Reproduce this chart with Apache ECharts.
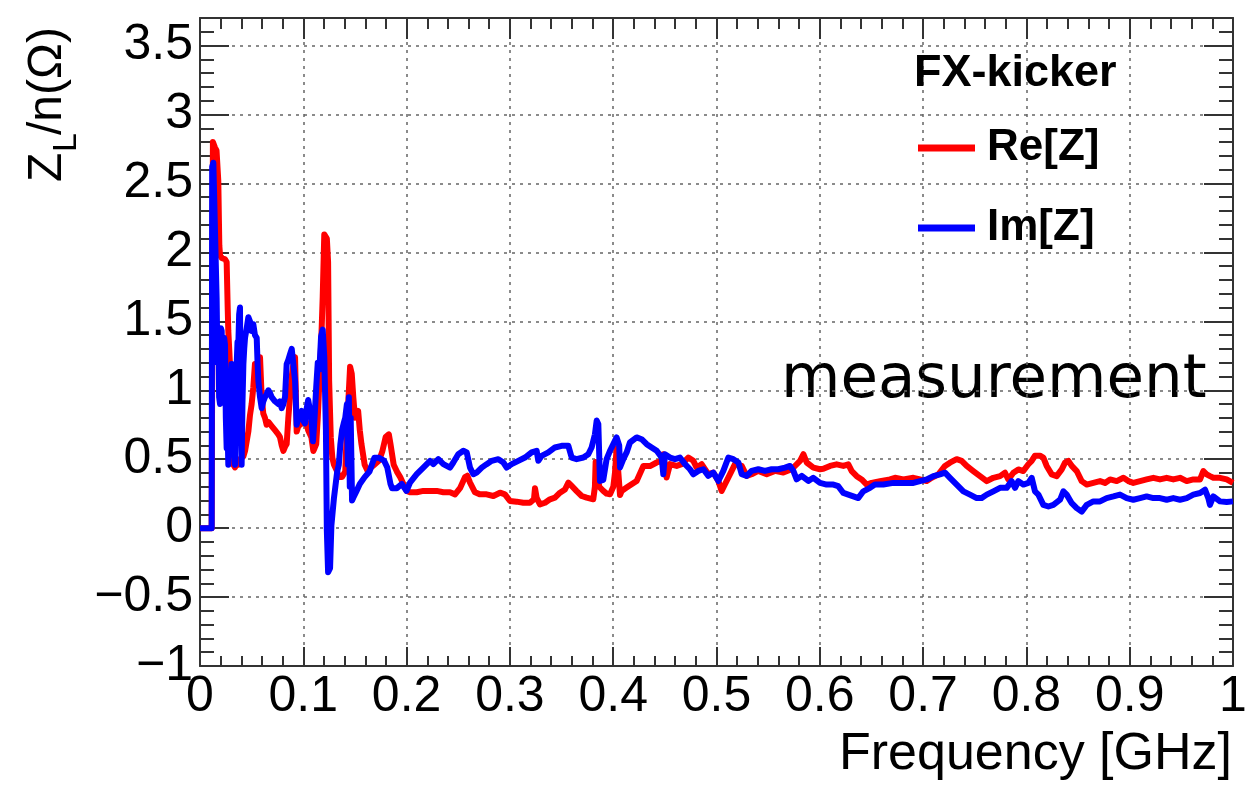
<!DOCTYPE html>
<html>
<head>
<meta charset="utf-8">
<script src="https://cdn.jsdelivr.net/npm/echarts@6/dist/echarts.min.js"></script>
<style>
  html, body { margin: 0; padding: 0; background: #ffffff; }
  #chart { width: 1258px; height: 790px; }
</style>
</head>
<body>
<div id="chart"></div>
<script>
// Longitudinal impedance Z_L/n of the FX kicker versus frequency (GHz)
const reFreq = [
  0, 0.0113, 0.0125, 0.0145, 0.016, 0.0177, 0.0187, 0.0194, 0.021, 0.0226, 0.0242, 0.0258, 0.0268, 0.0274,
  0.029, 0.0306, 0.0323, 0.0339, 0.0355, 0.0371, 0.0387, 0.0403, 0.042, 0.0436, 0.0452, 0.0468, 0.0484, 0.05,
  0.0516, 0.0532, 0.0549, 0.0565, 0.0581, 0.0597, 0.0613, 0.0629, 0.0645, 0.0662, 0.0678, 0.0694, 0.071, 0.0726,
  0.0742, 0.0758, 0.0774, 0.0791, 0.0807, 0.0823, 0.0839, 0.0855, 0.0871, 0.0888, 0.0904, 0.092, 0.0936, 0.0952,
  0.0968, 0.0984, 0.1016, 0.1047, 0.1078, 0.1097, 0.1109, 0.1125, 0.114, 0.1156, 0.1172, 0.1188, 0.1203, 0.1228,
  0.124, 0.125, 0.1266, 0.1281, 0.1297, 0.1328, 0.1344, 0.1375, 0.1406, 0.1422, 0.1438, 0.1453, 0.1469, 0.1484,
  0.15, 0.1531, 0.1547, 0.1563, 0.1594, 0.1625, 0.1656, 0.1688, 0.1734, 0.1766, 0.1797, 0.1828, 0.1844, 0.1875,
  0.1906, 0.1938, 0.1969, 0.2, 0.2033, 0.2098, 0.2162, 0.2227, 0.2291, 0.2356, 0.242, 0.2469, 0.2517, 0.2566,
  0.2588, 0.2614, 0.2662, 0.2711, 0.2775, 0.284, 0.2904, 0.2952, 0.3001, 0.3065, 0.313, 0.3194, 0.3233, 0.3243,
  0.3259, 0.3291, 0.334, 0.3388, 0.3436, 0.3485, 0.3533, 0.3566, 0.3598, 0.3646, 0.3695, 0.3743, 0.3807, 0.3823,
  0.383, 0.3865, 0.3904, 0.3936, 0.3969, 0.4001, 0.4017, 0.4033, 0.405, 0.4066, 0.4082, 0.413, 0.4178, 0.4227,
  0.4292, 0.4356, 0.4421, 0.4469, 0.4485, 0.4517, 0.455, 0.4614, 0.4663, 0.4727, 0.4776, 0.4808, 0.4856, 0.4921,
  0.4969, 0.5018, 0.505, 0.5082, 0.5131, 0.5179, 0.5244, 0.5292, 0.534, 0.5405, 0.5486, 0.5566, 0.5647, 0.5728,
  0.5809, 0.5841, 0.5873, 0.5938, 0.6002, 0.6034, 0.6099, 0.6163, 0.6228, 0.6276, 0.6309, 0.6357, 0.6405, 0.6454,
  0.6502, 0.6583, 0.668, 0.6728, 0.6809, 0.6906, 0.697, 0.7035, 0.7083, 0.7148, 0.7212, 0.726, 0.7325, 0.7373,
  0.7422, 0.7486, 0.7551, 0.7616, 0.768, 0.7745, 0.7793, 0.7825, 0.7874, 0.7922, 0.797, 0.8019, 0.8051, 0.8083,
  0.8132, 0.8164, 0.8196, 0.8245, 0.8293, 0.8342, 0.8374, 0.8406, 0.8439, 0.8487, 0.8535, 0.8584, 0.8648, 0.8713,
  0.8761, 0.881, 0.8874, 0.8939, 0.8987, 0.9035, 0.91, 0.9164, 0.9229, 0.9293, 0.9358, 0.9422, 0.9487, 0.9552,
  0.9616, 0.9681, 0.9713, 0.9745, 0.9777, 0.981, 0.9874, 0.9939, 1.0
];
const reValue = [
  0, 0, 2.80, 2.76, 2.74, 2.52, 2.05, 1.98, 1.96, 1.97, 1.95, 1.93, 1.60, 1.43,
  1.19, 0.83, 0.46, 0.44, 0.48, 0.46, 0.50, 0.49, 0.52, 0.56, 0.63, 0.70, 0.82, 0.90,
  1.02, 1.19, 1.10, 1.12, 1.24, 0.95, 0.83, 0.80, 0.75, 0.77, 0.78, 0.74, 0.73, 0.71,
  0.70, 0.68, 0.66, 0.60, 0.56, 0.59, 0.61, 0.80, 0.95, 1.10, 1.19, 1.24, 0.70, 0.74,
  0.73, 0.76, 0.80, 0.71, 0.66, 0.56, 0.58, 0.61, 0.80, 1.07, 1.32, 1.68, 2.13, 2.10,
  1.93, 1.07, 0.66, 0.51, 0.46, 0.41, 0.37, 0.37, 0.41, 0.71, 0.95, 1.17, 1.12, 0.95,
  0.80, 0.85, 0.71, 0.61, 0.46, 0.41, 0.44, 0.46, 0.49, 0.56, 0.66, 0.68, 0.61, 0.46,
  0.41, 0.37, 0.32, 0.27, 0.26, 0.26, 0.27, 0.27, 0.27, 0.26, 0.26, 0.245, 0.29, 0.37,
  0.38, 0.33, 0.26, 0.245, 0.245, 0.233, 0.257, 0.245, 0.197, 0.192, 0.184, 0.184, 0.209, 0.29,
  0.22, 0.172, 0.184, 0.209, 0.221, 0.257, 0.28, 0.33, 0.306, 0.269, 0.233, 0.221, 0.209, 0.30,
  0.48, 0.30, 0.27, 0.25, 0.245, 0.30, 0.40, 0.58, 0.40, 0.24, 0.27, 0.294, 0.318, 0.342,
  0.45, 0.45, 0.476, 0.488, 0.536, 0.367, 0.464, 0.451, 0.464, 0.512, 0.488, 0.439, 0.464, 0.391,
  0.403, 0.342, 0.269, 0.318, 0.391, 0.464, 0.451, 0.379, 0.391, 0.415, 0.391, 0.415, 0.403, 0.427,
  0.488, 0.536, 0.476, 0.439, 0.427, 0.43, 0.451, 0.463, 0.451, 0.463, 0.414, 0.377, 0.353, 0.316,
  0.328, 0.341, 0.353, 0.365, 0.353, 0.365, 0.353, 0.341, 0.365, 0.39, 0.451, 0.475, 0.50, 0.488,
  0.451, 0.414, 0.377, 0.341, 0.365, 0.377, 0.402, 0.353, 0.402, 0.426, 0.414, 0.463, 0.488, 0.525,
  0.525, 0.512, 0.451, 0.39, 0.377, 0.426, 0.475, 0.488, 0.451, 0.414, 0.341, 0.316, 0.328, 0.341,
  0.328, 0.353, 0.341, 0.365, 0.341, 0.328, 0.341, 0.353, 0.365, 0.353, 0.365, 0.353, 0.365, 0.341,
  0.353, 0.353, 0.414, 0.39, 0.377, 0.365, 0.365, 0.353, 0.328
];
const imFreq = [
  0, 0.0113, 0.0118, 0.0129, 0.0145, 0.0161, 0.0169, 0.0177, 0.0185, 0.0194, 0.0202, 0.021, 0.0218, 0.0226,
  0.0234, 0.0242, 0.025, 0.0258, 0.0266, 0.0274, 0.0282, 0.029, 0.0298, 0.0306, 0.0315, 0.0323, 0.0331, 0.0339,
  0.0347, 0.0355, 0.0363, 0.0371, 0.0379, 0.0387, 0.0395, 0.0403, 0.0411, 0.042, 0.0428, 0.0436, 0.0452, 0.0468,
  0.0484, 0.05, 0.0516, 0.0532, 0.0549, 0.0557, 0.0565, 0.0581, 0.0597, 0.0613, 0.0629, 0.0645, 0.0662, 0.0678,
  0.0694, 0.071, 0.0726, 0.0742, 0.0758, 0.0774, 0.0791, 0.0807, 0.0823, 0.0839, 0.0855, 0.0871, 0.0888, 0.0904,
  0.092, 0.0936, 0.0952, 0.0968, 0.0984, 0.1, 0.1016, 0.1031, 0.1047, 0.1062, 0.1078, 0.1094, 0.1109, 0.1125,
  0.114, 0.1156, 0.1172, 0.1188, 0.1203, 0.1219, 0.1228, 0.124, 0.1259, 0.1272, 0.1297, 0.1328, 0.1344, 0.1359,
  0.1375, 0.1391, 0.1406, 0.1422, 0.1431, 0.1441, 0.145, 0.1459, 0.1472, 0.1484, 0.1516, 0.1547, 0.1594, 0.1641,
  0.1688, 0.1734, 0.1781, 0.1813, 0.1844, 0.1859, 0.1906, 0.1953, 0.2, 0.2033, 0.2098, 0.2162, 0.2227, 0.2259,
  0.2307, 0.2356, 0.242, 0.2452, 0.25, 0.2549, 0.2582, 0.2614, 0.2646, 0.2678, 0.2727, 0.2775, 0.2824, 0.2888,
  0.2937, 0.2969, 0.3017, 0.3081, 0.3146, 0.321, 0.3259, 0.3275, 0.3307, 0.3372, 0.3436, 0.3501, 0.3566, 0.3598,
  0.3646, 0.3711, 0.3759, 0.3791, 0.3823, 0.384, 0.3856, 0.3872, 0.3904, 0.3936, 0.3969, 0.4001, 0.4033, 0.4058,
  0.4066, 0.4098, 0.413, 0.4162, 0.4227, 0.4275, 0.4324, 0.4372, 0.4421, 0.4469, 0.4485, 0.4501, 0.455, 0.4598,
  0.4646, 0.4695, 0.4743, 0.4776, 0.4824, 0.4873, 0.4921, 0.4969, 0.5018, 0.5066, 0.5115, 0.5163, 0.5212, 0.5244,
  0.5292, 0.534, 0.5405, 0.5469, 0.5534, 0.5598, 0.5663, 0.5711, 0.5744, 0.5776, 0.5825, 0.5889, 0.5937, 0.6002,
  0.6066, 0.6131, 0.6179, 0.6228, 0.6276, 0.6325, 0.6373, 0.6421, 0.6486, 0.6534, 0.6615, 0.6712, 0.6809, 0.6906,
  0.697, 0.7035, 0.7099, 0.7164, 0.7212, 0.726, 0.7325, 0.739, 0.7454, 0.7519, 0.7567, 0.7616, 0.768, 0.7745,
  0.7809, 0.7857, 0.789, 0.7922, 0.797, 0.8019, 0.8051, 0.8083, 0.8116, 0.8164, 0.8213, 0.8261, 0.8326, 0.8358,
  0.839, 0.8439, 0.8487, 0.8535, 0.8584, 0.8648, 0.8713, 0.8777, 0.8842, 0.8906, 0.8971, 0.9035, 0.91, 0.9164,
  0.9229, 0.9293, 0.9358, 0.9422, 0.9487, 0.9552, 0.9616, 0.9681, 0.9729, 0.9761, 0.9777, 0.981, 0.9874, 0.9939,
  1.0
];
const imValue = [
  0, 0, 2.62, 2.65, 2.66, 1.67, 1.20, 1.43, 0.95, 0.90, 1.45, 1.43, 1.00, 0.95,
  1.38, 1.33, 0.80, 0.58, 0.75, 0.46, 0.70, 1.00, 1.10, 1.19, 0.85, 0.70, 0.55, 0.46,
  0.90, 1.19, 1.35, 1.33, 1.55, 1.60, 0.80, 0.46, 0.90, 1.19, 1.30, 1.38, 1.45, 1.53,
  1.50, 1.43, 1.48, 1.40, 1.38, 1.20, 1.07, 0.95, 0.87, 0.92, 0.95, 0.97, 1.00, 0.98,
  0.95, 0.96, 0.92, 0.93, 0.90, 0.92, 0.87, 0.90, 0.95, 1.19, 1.22, 1.26, 1.30, 1.29,
  1.07, 0.75, 0.80, 0.80, 0.85, 0.78, 0.76, 0.86, 0.93, 0.92, 0.80, 0.63, 0.80, 1.02,
  1.20, 1.15, 1.39, 1.44, 1.24, 0.71, -0.02, -0.32, -0.29, 0.02, 0.22, 0.41, 0.46, 0.61,
  0.71, 0.76, 0.80, 0.90, 0.46, 0.95, 0.30, 0.80, 0.20, 0.22, 0.27, 0.32, 0.37, 0.41,
  0.51, 0.51, 0.49, 0.44, 0.32, 0.29, 0.29, 0.32, 0.27, 0.33, 0.391, 0.439, 0.488, 0.464,
  0.50, 0.464, 0.439, 0.476, 0.536, 0.561, 0.549, 0.439, 0.391, 0.403, 0.439, 0.464, 0.488, 0.50,
  0.476, 0.439, 0.464, 0.488, 0.512, 0.549, 0.561, 0.488, 0.524, 0.549, 0.585, 0.597, 0.597, 0.512,
  0.50, 0.512, 0.536, 0.585, 0.68, 0.78, 0.755, 0.342, 0.35, 0.50, 0.561, 0.609, 0.658, 0.60,
  0.44, 0.50, 0.549, 0.621, 0.658, 0.645, 0.609, 0.585, 0.561, 0.512, 0.391, 0.536, 0.512, 0.50,
  0.512, 0.464, 0.427, 0.391, 0.415, 0.427, 0.379, 0.403, 0.342, 0.415, 0.512, 0.50, 0.476, 0.391,
  0.379, 0.415, 0.427, 0.415, 0.427, 0.427, 0.439, 0.451, 0.415, 0.354, 0.379, 0.342, 0.365, 0.328,
  0.316, 0.316, 0.304, 0.255, 0.243, 0.23, 0.218, 0.267, 0.292, 0.316, 0.316, 0.328, 0.328, 0.328,
  0.341, 0.353, 0.377, 0.39, 0.402, 0.365, 0.316, 0.267, 0.243, 0.218, 0.218, 0.243, 0.267, 0.292,
  0.292, 0.341, 0.292, 0.341, 0.316, 0.328, 0.365, 0.267, 0.243, 0.169, 0.157, 0.169, 0.206, 0.267,
  0.243, 0.181, 0.145, 0.12, 0.169, 0.194, 0.194, 0.218, 0.23, 0.243, 0.218, 0.206, 0.218, 0.23,
  0.218, 0.218, 0.206, 0.218, 0.206, 0.218, 0.243, 0.255, 0.279, 0.218, 0.169, 0.23, 0.194, 0.189,
  0.194
];

// Axis ranges and tick steps
const xRange = [0, 1];
const xMajorStep = 0.1;
const yRange = [-1, 3.7];
const yMajorStep = 0.5;
const yMinorStep = 0.1;

const FONT = '"Liberation Sans", Arial, Helvetica, sans-serif';
const FRAME = '#333333';

const zip = (xs, ys) => xs.map((x, i) => [x, ys[i]]);

const chart = echarts.init(document.getElementById('chart'), null, { renderer: 'canvas' });

const frameLine = { show: true, onZero: false, lineStyle: { color: FRAME, width: 2 } };
const gridLine = { show: true, lineStyle: { color: '#666666', width: 1.5, type: [3, 5] } };

const yLabelFmt = v => String(Math.round(v * 10) / 10).replace('-', '\u2212');

chart.setOption({
  animation: false,
  backgroundColor: '#ffffff',
  grid: { left: 200, right: 25, top: 18, bottom: 124, containLabel: false, outerBoundsMode: 'none' },
  title: {
    text: 'FX-kicker',
    left: 914, top: 51, padding: 0,
    textStyle: { fontFamily: FONT, fontSize: 45, fontWeight: 'bold', color: '#000000' }
  },
  legend: {
    orient: 'vertical',
    left: 913, top: 121,
    itemWidth: 57, itemHeight: 7, itemGap: 36,
    icon: 'rect',
    itemStyle: { borderWidth: 0 },
    textStyle: { fontFamily: FONT, fontSize: 44, fontWeight: 'bold', color: '#000000', padding: [0, 0, 0, 7] },
    data: ['Re[Z]', 'Im[Z]']
  },
  xAxis: [
    {
      type: 'value', position: 'bottom', min: xRange[0], max: xRange[1], interval: xMajorStep,
      axisLine: frameLine,
      axisTick: { show: true, inside: true, length: 19, lineStyle: { color: FRAME, width: 2 } },
      minorTick: { show: true, splitNumber: 5, length: 10, lineStyle: { color: FRAME, width: 2 } },
      axisLabel: { show: true, margin: 6, fontFamily: FONT, fontSize: 50, color: '#000000', hideOverlap: false },
      splitLine: gridLine
    },
    {
      type: 'value', position: 'top', min: xRange[0], max: xRange[1], interval: xMajorStep,
      axisLine: frameLine,
      axisTick: { show: true, inside: true, length: 21, lineStyle: { color: FRAME, width: 2 } },
      minorTick: { show: true, splitNumber: 5, length: 11, lineStyle: { color: FRAME, width: 2 } },
      axisLabel: { show: false },
      splitLine: { show: false }
    }
  ],
  yAxis: [
    {
      type: 'value', position: 'left', min: yRange[0], max: yRange[1], interval: yMajorStep,
      axisLine: frameLine,
      axisTick: { show: true, inside: true, length: 29, lineStyle: { color: FRAME, width: 2 } },
      axisLabel: {
        show: true, margin: 7, fontFamily: FONT, fontSize: 50, color: '#000000',
        showMaxLabel: false, hideOverlap: false, formatter: yLabelFmt
      },
      splitLine: gridLine
    },
    {
      type: 'value', position: 'left', min: yRange[0], max: yRange[1], interval: yMinorStep,
      axisLine: { show: false, onZero: false },
      axisTick: { show: true, inside: true, length: 14, lineStyle: { color: FRAME, width: 2 } },
      axisLabel: { show: false },
      splitLine: { show: false }
    },
    {
      type: 'value', position: 'right', min: yRange[0], max: yRange[1], interval: yMajorStep,
      axisLine: frameLine,
      axisTick: { show: true, inside: true, length: 29, lineStyle: { color: FRAME, width: 2 } },
      axisLabel: { show: false },
      splitLine: { show: false }
    },
    {
      type: 'value', position: 'right', min: yRange[0], max: yRange[1], interval: yMinorStep,
      axisLine: { show: false, onZero: false },
      axisTick: { show: true, inside: true, length: 14, lineStyle: { color: FRAME, width: 2 } },
      axisLabel: { show: false },
      splitLine: { show: false }
    }
  ],
  series: [
    {
      name: 'Re[Z]', type: 'line', xAxisIndex: 0, yAxisIndex: 0,
      data: zip(reFreq, reValue),
      color: '#ff0000',
      showSymbol: false, symbol: 'none',
      lineStyle: { color: '#ff0000', width: 6, join: 'round' },
      emphasis: { disabled: true }, silent: true, z: 3
    },
    {
      name: 'Im[Z]', type: 'line', xAxisIndex: 0, yAxisIndex: 0,
      data: zip(imFreq, imValue),
      color: '#0000ff',
      showSymbol: false, symbol: 'none',
      lineStyle: { color: '#0000ff', width: 6, join: 'round' },
      emphasis: { disabled: true }, silent: true, z: 4
    }
  ],
  graphic: [
    {
      // vertical axis title: Z_L/n(Ω), read bottom to top
      type: 'group', x: 48, y: 182, rotation: Math.PI / 2,
      children: [
        { type: 'text', x: 0, y: 0, style: { text: 'Z', fontFamily: FONT, fontSize: 48, fill: '#000000', align: 'left', verticalAlign: 'middle' } },
        { type: 'text', x: 30, y: 19, style: { text: 'L', fontFamily: FONT, fontSize: 34, fill: '#000000', align: 'left', verticalAlign: 'middle' } },
        { type: 'text', x: 47, y: 0, style: { text: '/n(\u03A9)', fontFamily: FONT, fontSize: 48, fill: '#000000', align: 'left', verticalAlign: 'middle' } }
      ]
    },
    {
      type: 'text', x: 1232, y: 755,
      style: { text: 'Frequency [GHz]', fontFamily: FONT, fontSize: 52, fill: '#000000', align: 'right', verticalAlign: 'middle' }
    },
    {
      type: 'text', x: 781, y: 381,
      style: { text: 'measurement', fontFamily: '"DejaVu Sans", "Noto Sans", sans-serif', fontSize: 61, fill: '#000000', align: 'left', verticalAlign: 'middle' }
    }
  ]
});
</script>
</body>
</html>
